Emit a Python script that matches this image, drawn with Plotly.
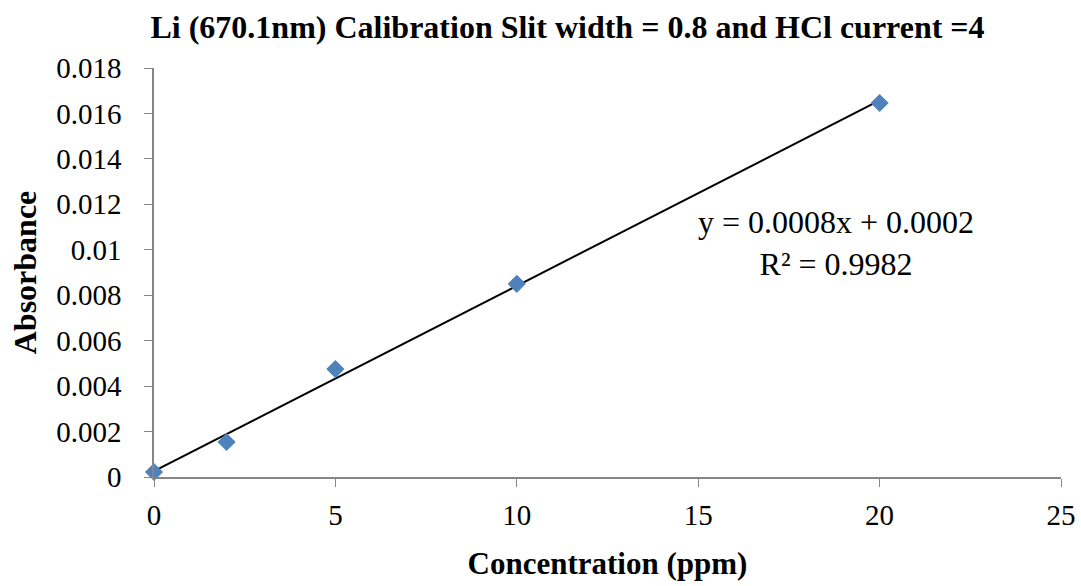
import numpy as np
import plotly.graph_objects as go

concentration = [0, 2, 5, 10, 20]
absorbance = [0.00022, 0.00154, 0.00475, 0.0085, 0.01646]
title_text = "Li (670.1nm) Calibration Slit width = 0.8 and HCl current =4"
equation_text = "y = 0.0008x + 0.0002<br>R² = 0.9982"

slope, intercept = np.polyfit(concentration, absorbance, 1)
trend_x = [min(concentration), max(concentration)]
trend_y = [slope * v + intercept for v in trend_x]

font_family = "'Liberation Serif', 'Times New Roman', Times, serif"

fig = go.Figure()
fig.add_trace(go.Scatter(x=trend_x, y=trend_y, mode="lines",
                         line=dict(color="black", width=2), showlegend=False))
fig.add_trace(go.Scatter(x=concentration, y=absorbance, mode="markers",
                         marker=dict(symbol="diamond", size=14, color="#4F81BD"),
                         showlegend=False, cliponaxis=False))

fig.update_layout(
    width=1081, height=586,
    margin=dict(l=154, r=20, t=68, b=109, autoexpand=False),
    paper_bgcolor="white", plot_bgcolor="white",
    font=dict(family=font_family, color="black", size=30),
    title=dict(text="<b>" + title_text + "</b>", x=0.525, xanchor="center",
               y=0.955, yanchor="middle", font=dict(size=32, family=font_family)),
    xaxis=dict(range=[0, 25], dtick=5, showgrid=False, zeroline=False,
               showline=True, linecolor="#868686", linewidth=1.5,
               ticks="outside", ticklen=8, tickcolor="#868686",
               ticklabelstandoff=3,
               title=dict(text="<b>Concentration (ppm)</b>", font=dict(size=31, family=font_family), standoff=23),
               tickfont=dict(size=29, family=font_family)),
    yaxis=dict(range=[0, 0.018], dtick=0.002, showgrid=False, zeroline=False,
               showline=True, linecolor="#868686", linewidth=1.5,
               ticks="outside", ticklen=8, tickcolor="#868686",
               ticklabelstandoff=17,
               tickformat="~g",
               title=dict(text="<b>Absorbance</b>", font=dict(size=32, family=font_family), standoff=10),
               tickfont=dict(size=29, family=font_family)),
    annotations=[dict(x=18.8, y=0.0103, xref="x", yref="y", text=equation_text,
                      showarrow=False, align="center", xanchor="center", yanchor="middle",
                      font=dict(size=32, family=font_family))],
)

fig.write_html("out.html", config={"displayModeBar": False},
               post_script="document.body.style.margin='0';")
